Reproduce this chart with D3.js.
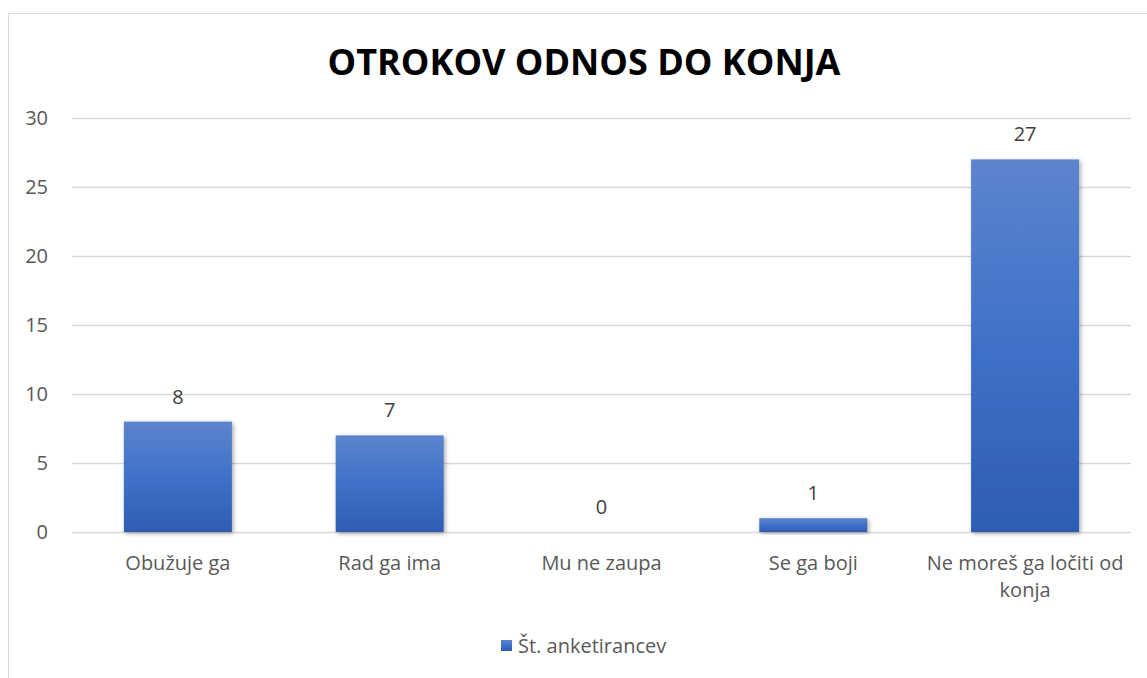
<!DOCTYPE html>
<html>
<head>
<meta charset="utf-8">
<script src="https://cdn.jsdelivr.net/npm/d3@7"></script>
<style>
body{margin:0;background:#fff;}
svg text{font-family:"Open Sans","Noto Sans",sans-serif;}
</style>
</head>
<body>
<div id="chart"></div>
<script>
// podatki
var categories = ["Obužuje ga", "Rad ga ima", "Mu ne zaupa", "Se ga boji", "Ne moreš ga ločiti od konja"];
var values = [8, 7, 0, 1, 27];
var yTicks = [0, 5, 10, 15, 20, 25, 30];
var seriesName = "Št. anketirancev";
var title = "OTROKOV ODNOS DO KONJA";

var width = 1147, height = 678;
var margin = {top:118, right:16, bottom:146, left:72};
var plotWidth = width - margin.left - margin.right;
var plotHeight = height - margin.top - margin.bottom;

var svg = d3.select('#chart').append('svg').attr('width',width).attr('height',height);

var defs = svg.append('defs');
var grad = defs.append('linearGradient').attr('id','barGrad')
    .attr('x1',0).attr('y1',0).attr('x2',0).attr('y2',1);
grad.append('stop').attr('offset','0%').attr('stop-color','#5D84CD');
grad.append('stop').attr('offset','50%').attr('stop-color','#3F71C9');
grad.append('stop').attr('offset','100%').attr('stop-color','#2E5DB5');
var sh = defs.append('filter').attr('id','shadow').attr('x','-20%').attr('y','-20%').attr('width','140%').attr('height','140%');
sh.append('feDropShadow').attr('dx',1.5).attr('dy',1.5).attr('stdDeviation',2).attr('flood-color','#000').attr('flood-opacity',0.35);

// okvir
svg.append('path').attr('d','M8.5,'+height+' V13.5 H'+width)
    .attr('fill','none').attr('stroke','#d9d9d9').attr('stroke-width',1);

svg.append('text').attr('x',584).attr('y',75).attr('text-anchor','middle')
    .style('font-size','36px').style('font-weight','bold').attr('fill','#000')
    .text(title);

var plotArea = svg.append('g').attr('transform','translate('+margin.left+','+margin.top+')');

var xs = d3.scaleBand().domain(categories).range([0,plotWidth]).paddingInner(0.49).paddingOuter(0.245);
var ys = d3.scaleLinear().domain([0,30]).range([plotHeight,0]);

// mreža
plotArea.selectAll('.grid').data(yTicks).enter().append('line')
    .attr('x1',0).attr('x2',plotWidth)
    .attr('y1',function(d){return Math.round(ys(d))+0.5;})
    .attr('y2',function(d){return Math.round(ys(d))+0.5;})
    .attr('stroke','#d9d9d9').attr('stroke-width',1.3);

var yAxis = plotArea.append('g').call(d3.axisLeft(ys).tickValues(yTicks).tickSize(0).tickPadding(24));
yAxis.select('.domain').remove();
yAxis.selectAll('text').attr('fill','#595959').style('font-size','20px');

plotArea.selectAll('.bar').data(values).enter().append('rect')
    .attr('x',function(d,i){return xs(categories[i]);})
    .attr('width',xs.bandwidth())
    .attr('y',function(d){return ys(d);})
    .attr('height',function(d){return plotHeight - ys(d);})
    .attr('fill','url(#barGrad)')
    .attr('filter','url(#shadow)');

plotArea.selectAll('.val').data(values).enter().append('text')
    .attr('x',function(d,i){return xs(categories[i])+xs.bandwidth()/2;})
    .attr('y',function(d){return ys(d)-18;})
    .attr('text-anchor','middle')
    .attr('fill','#404040').style('font-size','20px')
    .text(function(d){return d;});

// kategorije z zavijanjem
var xAxis = plotArea.append('g').attr('transform','translate(0,'+plotHeight+')')
    .call(d3.axisBottom(xs).tickSize(0).tickPadding(24));
xAxis.select('.domain').remove();
xAxis.selectAll('text').attr('fill','#595959').style('font-size','20px')
    .each(function(d){
        var t = d3.select(this);
        var words = d.split(' ');
        var maxW = xs.step() - 4;
        t.text(null);
        var line = [];
        var span = t.append('tspan').attr('x',0).attr('dy','0.71em');
        words.forEach(function(w){
            line.push(w);
            span.text(line.join(' '));
            if(span.node().getComputedTextLength() > maxW && line.length>1){
                line.pop();
                span.text(line.join(' '));
                line = [w];
                span = t.append('tspan').attr('x',0).attr('dy','1.35em').text(w);
            }
        });
    });

// legenda
var leg = svg.append('g').attr('transform','translate(501,640)');
leg.append('rect').attr('width',11).attr('height',11).attr('fill','url(#barGrad)');
leg.append('text').attr('x',17).attr('y',13).attr('fill','#595959').style('font-size','20px').text(seriesName);
</script>
</body>
</html>
